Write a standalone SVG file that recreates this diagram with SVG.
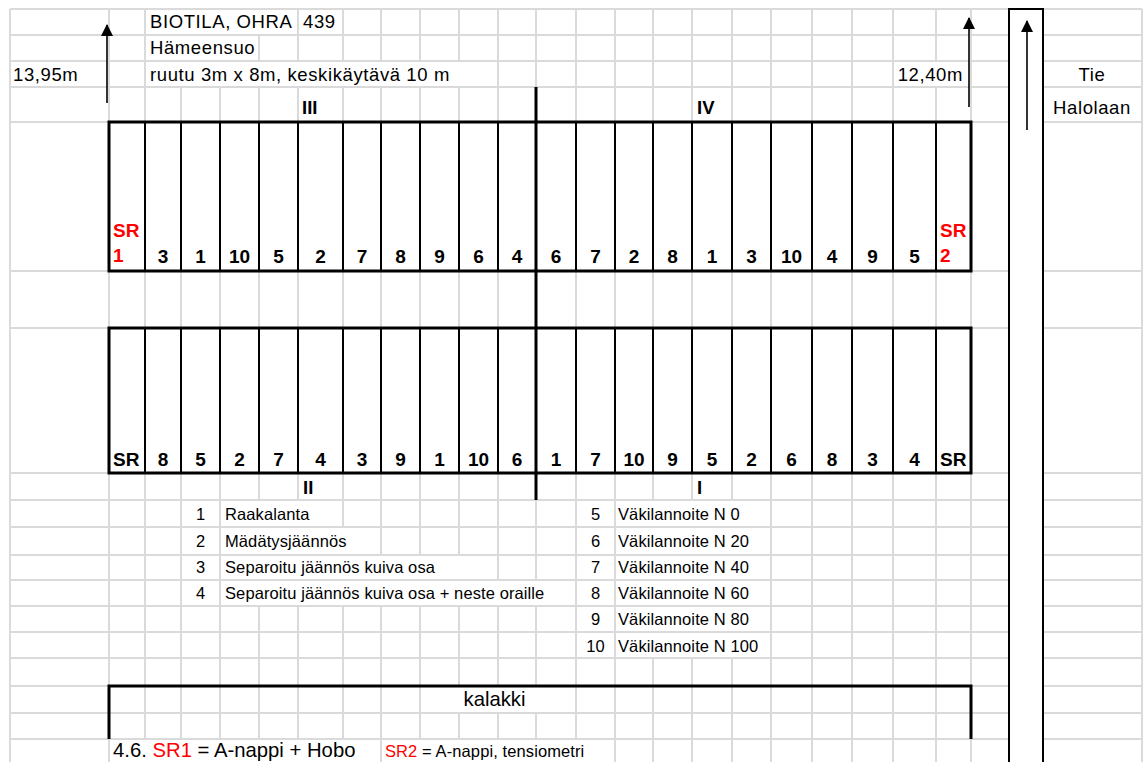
<svg xmlns="http://www.w3.org/2000/svg" width="1146" height="762" viewBox="0 0 1146 762">
<style>
.g{stroke:#dadada;stroke-width:2;fill:none}
.m{fill:#fff;stroke:none}
.b2{stroke:#000;stroke-width:2;fill:none}
.b3{stroke:#000;stroke-width:3;fill:none}
.ar{stroke:#000;stroke-width:1.6;fill:none;marker-end:url(#ah)}
text{font-family:"Liberation Sans",Arial,sans-serif;fill:#000}
.h{font-size:18.5px;letter-spacing:0.6px}
.n{font-size:19px;font-weight:bold;text-anchor:middle}
.sr{font-size:19px;font-weight:bold}
.red{fill:#ff0000}
.l{font-size:16.5px;letter-spacing:0.1px}
.lc{font-size:16.5px;text-anchor:middle}
.big{font-size:20.3px}
.rm{font-weight:bold;font-size:18.5px}
</style>
<defs>
<marker id="ah" viewBox="0 0 12 12" markerWidth="12" markerHeight="12" refX="11" refY="6" orient="auto" markerUnits="userSpaceOnUse">
<path d="M0,0 L12,6 L0,12 z" fill="#000"/>
</marker>
</defs>
<rect width="1146" height="762" fill="#fff"/>
<g id="grid">
<path class="g" d="M10,9V762M109,9V762M145,9V762M181,9V762M220,9V762M259,9V762M298,9V762M343,9V762M381,9V762M420,9V762M459,9V762M498,9V762M536,9V762M576,9V762M615,9V762M653,9V762M692,9V762M732,9V762M771,9V762M812,9V762M852,9V762M893,9V762M936,9V762M971,9V762M1142,9V762"/>
<path class="g" d="M10,9H1009M10,35H1009M10,61H1009M10,87H1009M10,122H1009M10,271H1009M10,328H1009M10,473H1009M10,500H1009M10,527H1009M10,555H1009M10,580H1009M10,606H1009M10,632H1009M10,658H1009M10,686H1009M10,713H1009M10,739H1009"/>
<path class="g" d="M1043,9H1142M1043,35H1142M1043,61H1142M1043,87H1142M1043,122H1142M1043,271H1142M1043,328H1142M1043,473H1142M1043,500H1142M1043,527H1142M1043,555H1142M1043,580H1142M1043,606H1142M1043,632H1142M1043,658H1142M1043,686H1142M1043,713H1142M1043,739H1142"/>
<!-- overflow masks -->
<rect class="m" x="147" y="10" width="150" height="24"/>
<rect class="m" x="147" y="36" width="111" height="24"/>
<rect class="m" x="147" y="62" width="350" height="24"/>
<rect class="m" x="894" y="62" width="76" height="24"/>
<rect class="m" x="1010" y="9" width="32" height="753"/>
<rect class="m" x="110" y="123" width="860" height="147"/>
<rect class="m" x="110" y="329" width="860" height="143"/>
<rect class="m" x="221" y="501" width="121" height="25"/>
<rect class="m" x="221" y="528" width="159" height="26"/>
<rect class="m" x="221" y="556" width="276" height="23"/>
<rect class="m" x="221" y="581" width="354" height="24"/>
<rect class="m" x="616" y="501" width="154" height="25"/>
<rect class="m" x="616" y="528" width="154" height="26"/>
<rect class="m" x="616" y="556" width="154" height="23"/>
<rect class="m" x="616" y="581" width="154" height="24"/>
<rect class="m" x="616" y="607" width="154" height="24"/>
<rect class="m" x="616" y="633" width="154" height="24"/>
<rect class="m" x="421" y="687" width="154" height="25"/>
<rect class="m" x="110" y="740" width="270" height="22"/>
<rect class="m" x="382" y="740" width="232" height="22"/>
</g>
<g id="road">
<path class="b2" d="M1009,762V9H1043V762"/>
<line class="ar" x1="1027" y1="130" x2="1027" y2="21"/>
<text class="h" x="1092" y="81" text-anchor="middle">Tie</text>
<text class="h" x="1092" y="114" text-anchor="middle">Halolaan</text>
</g>
<g id="header">
<text class="h" x="150" y="28">BIOTILA, OHRA</text>
<text class="h" x="303" y="28">439</text>
<text class="h" x="150" y="54">Hämeensuo</text>
<text class="h" x="13" y="81">13,95m</text>
<text class="h" x="150" y="81">ruutu 3m x 8m, keskikäytävä 10 m</text>
<text class="h" x="963" y="81" text-anchor="end">12,40m</text>
<line class="ar" x1="107" y1="103" x2="107" y2="25"/>
<line class="ar" x1="969" y1="107" x2="969" y2="18"/>
<text class="rm" x="302" y="114">III</text>
<text class="rm" x="697" y="114">IV</text>
</g>
<g id="plots-top">
<path class="b2" d="M145,122V271M181,122V271M220,122V271M259,122V271M298,122V271M343,122V271M381,122V271M420,122V271M459,122V271M498,122V271M576,122V271M615,122V271M653,122V271M692,122V271M732,122V271M771,122V271M812,122V271M852,122V271M893,122V271M936,122V271"/>
<rect class="b3" x="109" y="122" width="862" height="149"/>
<text class="sr red" x="113" y="237">SR</text>
<text class="sr red" x="113" y="262">1</text>
<text class="sr red" x="940" y="237">SR</text>
<text class="sr red" x="940" y="262">2</text>
<g class="n">
<text class="n" x="163" y="263">3</text>
<text class="n" x="200.5" y="263">1</text>
<text class="n" x="239.5" y="263">10</text>
<text class="n" x="278.5" y="263">5</text>
<text class="n" x="320.5" y="263">2</text>
<text class="n" x="362" y="263">7</text>
<text class="n" x="400.5" y="263">8</text>
<text class="n" x="439.5" y="263">9</text>
<text class="n" x="478.5" y="263">6</text>
<text class="n" x="517" y="263">4</text>
<text class="n" x="556" y="263">6</text>
<text class="n" x="595.5" y="263">7</text>
<text class="n" x="634" y="263">2</text>
<text class="n" x="672.5" y="263">8</text>
<text class="n" x="712" y="263">1</text>
<text class="n" x="751.5" y="263">3</text>
<text class="n" x="791.5" y="263">10</text>
<text class="n" x="832" y="263">4</text>
<text class="n" x="872.5" y="263">9</text>
<text class="n" x="914.5" y="263">5</text>
</g>
</g>
<g id="plots-bottom">
<path class="b2" d="M145,328V473M181,328V473M220,328V473M259,328V473M298,328V473M343,328V473M381,328V473M420,328V473M459,328V473M498,328V473M576,328V473M615,328V473M653,328V473M692,328V473M732,328V473M771,328V473M812,328V473M852,328V473M893,328V473M936,328V473"/>
<rect class="b3" x="109" y="328" width="862" height="145"/>
<text class="sr" x="113" y="466">SR</text>
<text class="sr" x="940" y="466">SR</text>
<text class="n" x="163" y="466">8</text>
<text class="n" x="200.5" y="466">5</text>
<text class="n" x="239.5" y="466">2</text>
<text class="n" x="278.5" y="466">7</text>
<text class="n" x="320.5" y="466">4</text>
<text class="n" x="362" y="466">3</text>
<text class="n" x="400.5" y="466">9</text>
<text class="n" x="439.5" y="466">1</text>
<text class="n" x="478.5" y="466">10</text>
<text class="n" x="517" y="466">6</text>
<text class="n" x="556" y="466">1</text>
<text class="n" x="595.5" y="466">7</text>
<text class="n" x="634" y="466">10</text>
<text class="n" x="672.5" y="466">9</text>
<text class="n" x="712" y="466">5</text>
<text class="n" x="751.5" y="466">2</text>
<text class="n" x="791.5" y="466">6</text>
<text class="n" x="832" y="466">8</text>
<text class="n" x="872.5" y="466">3</text>
<text class="n" x="914.5" y="466">4</text>
<text class="rm" x="303" y="494">II</text>
<text class="rm" x="697" y="494">I</text>
</g>
<line id="divider" class="b3" x1="536" y1="87" x2="536" y2="500"/>
<g id="legend">
<text class="lc" x="200.5" y="520">1</text><text class="l" x="225" y="520">Raakalanta</text>
<text class="lc" x="200.5" y="547">2</text><text class="l" x="225" y="547">Mädätysjäännös</text>
<text class="lc" x="200.5" y="573">3</text><text class="l" x="225" y="573">Separoitu jäännös kuiva osa</text>
<text class="lc" x="200.5" y="599">4</text><text class="l" x="225" y="599">Separoitu jäännös kuiva osa + neste oraille</text>
<text class="lc" x="595.5" y="520">5</text><text class="l" x="618" y="520">Väkilannoite N 0</text>
<text class="lc" x="595.5" y="547">6</text><text class="l" x="618" y="547">Väkilannoite N 20</text>
<text class="lc" x="595.5" y="573">7</text><text class="l" x="618" y="573">Väkilannoite N 40</text>
<text class="lc" x="595.5" y="599">8</text><text class="l" x="618" y="599">Väkilannoite N 60</text>
<text class="lc" x="595.5" y="625">9</text><text class="l" x="618" y="625">Väkilannoite N 80</text>
<text class="lc" x="595.5" y="652">10</text><text class="l" x="618" y="652">Väkilannoite N 100</text>
</g>
<g id="kalakki">
<path class="b3" d="M109,739V686H971V739"/>
<text class="big" x="494.5" y="706" text-anchor="middle">kalakki</text>
</g>
<g id="note">
<text class="big" x="113" y="757">4.6. <tspan class="red">SR1</tspan> = A-nappi + Hobo</text>
<text class="l" x="385" y="757"><tspan class="red">SR2</tspan> = A-nappi, tensiometri</text>
</g>
</svg>
